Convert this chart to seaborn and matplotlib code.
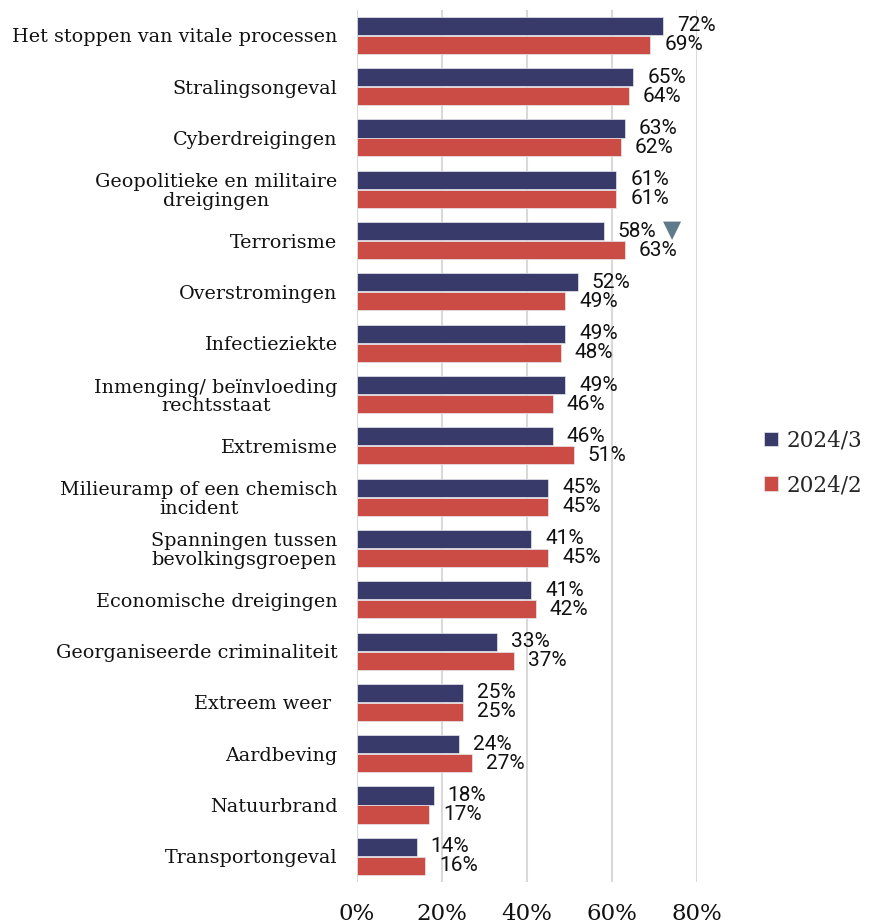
import matplotlib
matplotlib.use("Agg")
import matplotlib.pyplot as plt
import matplotlib.ticker as mtick
import pandas as pd
import seaborn as sns

categories = [
    "Het stoppen van vitale processen",
    "Stralingsongeval",
    "Cyberdreigingen",
    "Geopolitieke en militaire\ndreigingen",
    "Terrorisme",
    "Overstromingen",
    "Infectieziekte",
    "Inmenging/ beïnvloeding\nrechtsstaat",
    "Extremisme",
    "Milieuramp of een chemisch\nincident",
    "Spanningen tussen\nbevolkingsgroepen",
    "Economische dreigingen",
    "Georganiseerde criminaliteit",
    "Extreem weer ",
    "Aardbeving",
    "Natuurbrand",
    "Transportongeval",
]
wave_2024_3 = [72, 65, 63, 61, 58, 52, 49, 49, 46, 45, 41, 41, 33, 25, 24, 18, 14]
wave_2024_2 = [69, 64, 62, 61, 63, 49, 48, 46, 51, 45, 45, 42, 37, 25, 27, 17, 16]
series = ["2024/3", "2024/2"]
# index of the category with a significant drop
drop_idx = 4

colors = {"2024/3": "#383B6A", "2024/2": "#CA4C44"}

df = pd.DataFrame({
    "categorie": categories * 2,
    "meting": [series[0]] * len(categories) + [series[1]] * len(categories),
    "pct": [v / 100 for v in wave_2024_3 + wave_2024_2],
})

sns.set_theme(style="white")
plt.rcParams["font.family"] = ["DejaVu Serif"]

fig = plt.figure(figsize=(8.74, 9.24), dpi=100)
ax = fig.add_axes([0.4085, 0.0455, 0.389, 0.944])

sns.barplot(data=df, x="pct", y="categorie", hue="meting", hue_order=series,
            palette=colors, saturation=1, orient="h", width=0.74, gap=0.05,
            edgecolor="#E8E8F0", linewidth=0.5, ax=ax)

ax.set_xlim(0, 0.8)
ax.set_ylim(16.5, -0.5)
ax.xaxis.set_major_locator(mtick.MultipleLocator(0.2))
ax.xaxis.set_major_formatter(mtick.PercentFormatter(1.0, decimals=0))
ax.grid(axis="x", color="#D9D9D9", linewidth=1.5)
ax.set_axisbelow(True)
for s in ax.spines.values():
    s.set_visible(False)
ax.set_xlabel("")
ax.set_ylabel("")
ax.tick_params(axis="y", length=0, pad=14, labelsize=13.8, labelcolor="#111111")
ax.tick_params(axis="x", length=0, pad=15, labelsize=16.5, labelcolor="#111111")
for lab in ax.get_yticklabels():
    lab.set_multialignment("center")
    lab.set_linespacing(1.05)

for cont, vals in zip(ax.containers, [wave_2024_3, wave_2024_2]):
    ax.bar_label(cont, labels=[f"{v}%" for v in vals], padding=10,
                 fontsize=15, family="Roboto", color="#111111")

bar = ax.containers[0][drop_idx]
ax.annotate("▼", xy=(bar.get_width(), bar.get_y() + bar.get_height() / 2),
            xytext=(49, 1), textcoords="offset points", ha="center", va="center",
            fontsize=17, family="DejaVu Sans", color="#5E7A8B")

handles, labels = ax.get_legend_handles_labels()
ax.legend(handles, labels, loc="center left", bbox_to_anchor=(0.852, 0.499),
          bbox_transform=fig.transFigure, frameon=False, fontsize=15.5,
          handlelength=0.65, handleheight=0.65, handletextpad=0.4, labelspacing=1.05)

fig.savefig("out.png", dpi=100)
